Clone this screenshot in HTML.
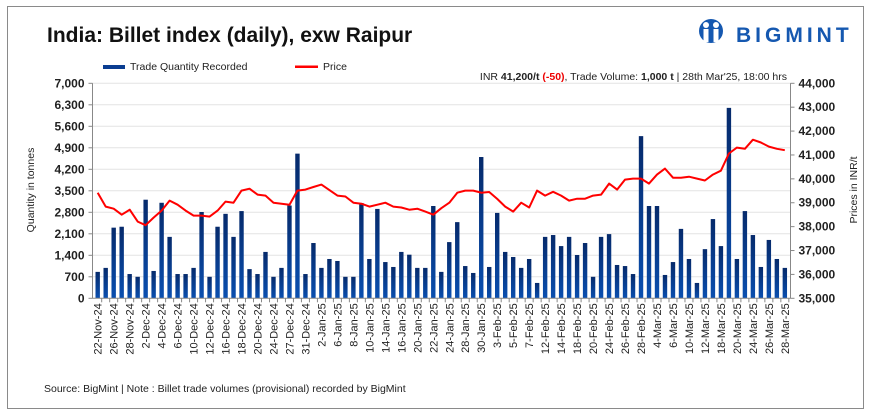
<!DOCTYPE html>
<html><head><meta charset="utf-8">
<style>
body{margin:0;background:#fff;font-family:"Liberation Sans",Arial,sans-serif;}
#wrap{position:relative;width:879px;height:419px;overflow:hidden;background:#fff;}
</style></head>
<body>
<div id="wrap">
<svg id="chart" width="879" height="419" xmlns="http://www.w3.org/2000/svg">
<defs>
<linearGradient id="barGrad" x1="0" y1="0" x2="0" y2="1">
<stop offset="0" stop-color="#062a6b"/><stop offset="1" stop-color="#0a4fb0"/>
</linearGradient>
</defs>
<rect x="7.5" y="6.5" width="856" height="402" fill="#fff" stroke="#8a8a8a" stroke-width="1"/>
<text x="47" y="42" font-size="21" font-weight="bold" fill="#111">India: Billet index (daily), exw Raipur</text>
<g>
<circle cx="711" cy="31" r="12" fill="#1558b0"/>
<circle cx="706" cy="25" r="3" fill="#fff"/><circle cx="716" cy="25" r="3" fill="#fff"/>
<rect x="703.5" y="29" width="5" height="13" fill="#fff"/><rect x="713.5" y="29" width="5" height="13" fill="#fff"/>
<text x="736" y="42" font-size="21" font-weight="bold" fill="#1558b0" letter-spacing="4">BIGMINT</text>
</g>
<g>
<rect x="103" y="65" width="22" height="4" fill="#0a3d91"/>
<text x="130" y="70" font-size="10.5" fill="#222">Trade Quantity Recorded</text>
<rect x="295" y="65.5" width="23" height="2.5" fill="#f00"/>
<text x="323" y="70" font-size="10.5" fill="#222">Price</text>
</g>
<text x="787" y="80" font-size="10.5" fill="#222" text-anchor="end">INR <tspan font-weight="bold">41,200/t</tspan> <tspan fill="#e00" font-weight="bold">(-50)</tspan>, Trade Volume: <tspan font-weight="bold">1,000 t</tspan>  | 28th Mar'25, 18:00 hrs</text>
<text transform="translate(34,190) rotate(-90)" font-size="10.5" fill="#222" text-anchor="middle">Quantity in tonnes</text>
<text transform="translate(857,190) rotate(-90)" font-size="10.5" fill="#222" text-anchor="middle">Prices in INR/t</text>
<text x="44" y="392" font-size="10.5" fill="#222">Source: BigMint | Note : Billet trade volumes (provisional) recorded by BigMint</text>
<g id="grid"></g><g id="bars"></g><g id="axes"></g><g id="line"></g><g id="xlabels"></g>
</svg>
</div>
<script>
const categories=["22-Nov-24","25-Nov-24","26-Nov-24","27-Nov-24","28-Nov-24","29-Nov-24","2-Dec-24","3-Dec-24","4-Dec-24","5-Dec-24","6-Dec-24","9-Dec-24","10-Dec-24","11-Dec-24","12-Dec-24","13-Dec-24","16-Dec-24","17-Dec-24","18-Dec-24","19-Dec-24","20-Dec-24","23-Dec-24","24-Dec-24","26-Dec-24","27-Dec-24","30-Dec-24","31-Dec-24","1-Jan-25","2-Jan-25","3-Jan-25","6-Jan-25","7-Jan-25","8-Jan-25","9-Jan-25","10-Jan-25","13-Jan-25","14-Jan-25","15-Jan-25","16-Jan-25","17-Jan-25","20-Jan-25","21-Jan-25","22-Jan-25","23-Jan-25","24-Jan-25","27-Jan-25","28-Jan-25","29-Jan-25","30-Jan-25","31-Jan-25","3-Feb-25","4-Feb-25","5-Feb-25","6-Feb-25","7-Feb-25","11-Feb-25","12-Feb-25","13-Feb-25","14-Feb-25","17-Feb-25","18-Feb-25","19-Feb-25","20-Feb-25","21-Feb-25","24-Feb-25","25-Feb-25","26-Feb-25","27-Feb-25","28-Feb-25","3-Mar-25","4-Mar-25","5-Mar-25","6-Mar-25","7-Mar-25","10-Mar-25","11-Mar-25","12-Mar-25","17-Mar-25","18-Mar-25","19-Mar-25","20-Mar-25","21-Mar-25","24-Mar-25","25-Mar-25","26-Mar-25","27-Mar-25","28-Mar-25"];
const quantity=[860,990,2300,2330,790,700,3210,890,3110,2000,790,790,990,2810,700,2330,2750,2000,2840,950,790,1510,700,990,3020,4710,790,1800,990,1280,1215,700,700,3100,1280,2910,1180,1020,1510,1420,990,990,3005,860,1830,2480,1050,825,4600,1020,2780,1510,1345,990,1280,500,2000,2060,1700,2000,1410,1800,700,2000,2090,1085,1050,790,5280,3005,3005,760,1180,2260,1280,500,1600,2580,1700,6200,1280,2840,2060,1020,1900,1280,990];
const price=[39420,38840,38750,38500,38710,38210,38060,38380,38670,39090,38920,38670,38460,38460,38420,38670,39050,39000,39510,39590,39340,39300,39000,38960,38920,39510,39550,39660,39760,39530,39300,39260,39000,38960,38840,38920,39000,38840,38800,38710,38750,38630,38500,38770,39000,39420,39510,39510,39420,39450,39160,38840,38630,39000,38800,39510,39300,39460,39300,39090,39170,39170,39300,39340,39800,39550,39970,40010,40010,39800,40180,40430,40050,40050,40090,40010,39930,40180,40340,41060,41310,41260,41640,41520,41350,41260,41200];
const leftTicks=[0,700,1400,2100,2800,3500,4200,4900,5600,6300,7000];
const rightTicks=[35000,36000,37000,38000,39000,40000,41000,42000,43000,44000];

const NS="http://www.w3.org/2000/svg";
const X0=97.7,STEP=7.99,YB=298.3,YT=83.3,PL=92.5,PR=790.5;
const xPos=i=>X0+i*STEP;
const yL=v=>YB-(v/7000)*(YB-YT);
const yR=v=>YB-((v-35000)/9000)*(YB-YT);
function mk(tag,attrs,parent){const e=document.createElementNS(NS,tag);for(const k in attrs)e.setAttribute(k,attrs[k]);document.getElementById(parent).appendChild(e);return e;}

leftTicks.forEach(t=>{
  if(t>0){const g=mk('line',{x1:PL,x2:PR,y1:yL(t),y2:yL(t),stroke:'#e3e3e3','stroke-width':1},'grid');
  
  }
  const tk=mk('line',{x1:PL-4,x2:PL,y1:yL(t),y2:yL(t),stroke:'#888'},'axes');
  
  
  const tx=mk('text',{x:PL-8,y:yL(t)+4,'font-size':12,'font-weight':'bold','text-anchor':'end',fill:'#222'},'axes');
  tx.textContent=t.toLocaleString('en-US');
  
  
});
rightTicks.forEach(t=>{
  const tk=mk('line',{x1:PR,x2:PR+4,y1:yR(t),y2:yR(t),stroke:'#888'},'axes');
  
  
  const tx=mk('text',{x:PR+8,y:yR(t)+4,'font-size':12,'font-weight':'bold',fill:'#222'},'axes');
  tx.textContent=t.toLocaleString('en-US');
  
  
});
const la=mk('line',{x1:PL,x2:PL,y1:YT,y2:YB,stroke:'#888'},'axes');


const ra=mk('line',{x1:PR,x2:PR,y1:YT,y2:YB,stroke:'#888'},'axes');


const xa=mk('line',{x1:PL,x2:PR,y1:YB,y2:YB,stroke:'#888'},'axes');



quantity.forEach((v,i)=>{
  const b=mk('rect',{x:xPos(i)-2.2,y:yL(v),width:4.4,height:YB-yL(v),fill:'url(#barGrad)'},'bars');
  
  
  const tk=mk('line',{x1:xPos(i)+STEP/2,x2:xPos(i)+STEP/2,y1:YB,y2:YB+4,stroke:'#888'},'axes');
  
  
});
const pl=mk('polyline',{points:price.map((p,i)=>xPos(i).toFixed(1)+','+yR(p).toFixed(1)).join(' '),fill:'none',stroke:'#f00','stroke-width':2,'stroke-linejoin':'round'},'line');



categories.forEach((c,i)=>{
  if(i%2!==0)return;
  const x=xPos(i)+4;
  const t=mk('text',{transform:'translate('+x.toFixed(1)+','+(YB+5)+') rotate(-90)','font-size':11,'text-anchor':'end',fill:'#222'},'xlabels');
  t.textContent=c;
  
  
});
</script>
</body></html>
